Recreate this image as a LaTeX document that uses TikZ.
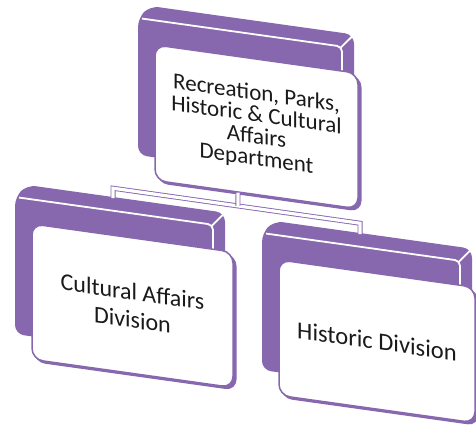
\documentclass[tikz,border=0pt]{standalone}
\usepackage{fontspec}
\setmainfont{Carlito}
\usetikzlibrary{calc}
\definecolor{purp}{HTML}{8768AE}
\definecolor{ink}{HTML}{1A1A1A}
\tikzset{
  card/.style={rectangle, rounded corners=11pt, draw=purp, line width=1.5pt, fill=white,
    minimum height=135.5pt, inner sep=0pt, align=center, text=ink},
  conn/.style={draw=purp, line width=0.9pt, double=white, double distance=3.2pt},
  edgeline/.style={white, line width=1.8pt}
}
% #1 name, #2 ox, #3 oy, #4 purple face width, #5 card width, #6 font size, #7 baselineskip, #8 text
\newcommand{\cardgroup}[8]{%
\begin{scope}[shift={(#2,#3)}, yslant=-0.14]
  \fill[purp, rounded corners=9pt] (0,137) -- (0,0) -- (12,-13.7) -- ({#4+12},-13.7)
     -- ({#4+12},123) -- (#4,137) -- cycle;
  \draw[edgeline, rounded corners=5pt] (4,0) -- (#4,0) -- (#4,27);
  \draw[edgeline] ({#4-1.5},1.5) -- ({#4+12},-13.7);
  \fill[purp, rounded corners=11pt] (19,27) rectangle ({17+#5+3.5},162.5);
  \node[card, transform shape, minimum width=#5pt,
        font={\fontsize{#6}{#7}\selectfont\lineskiplimit=-30pt}]
        (#1) at ({17+#5/2},92.25) {#8};
  \coordinate (#1-top) at (98,-12.5);
  \coordinate (#1-bot) at (100,160.5);
\end{scope}}
\begin{document}
\begin{tikzpicture}[x=1pt,y=-1pt]
\useasboundingbox (0,0) rectangle (476,424);
\cardgroup{dept}{138}{18}{204}{203}{23}{21.8}{Recreation, Parks,\\Historic \& Cultural\\Affairs\\Department}
\cardgroup{cult}{15}{197}{198}{201}{24}{28}{Cultural Affairs\\Division}
\cardgroup{hist}{262}{233}{198}{196}{24.5}{28}{Historic Division}
\coordinate (busL) at ($(cult-top)+(0,-10)$);
\coordinate (busR) at ($(hist-top)+(0,-11)$);
\coordinate (busM) at ($(busL)!0.506!(busR)$);
\draw[conn] (cult-top) -- (busL) -- (busR) -- (hist-top);
\draw[conn] (dept-bot) -- (busM);
\end{tikzpicture}
\end{document}
